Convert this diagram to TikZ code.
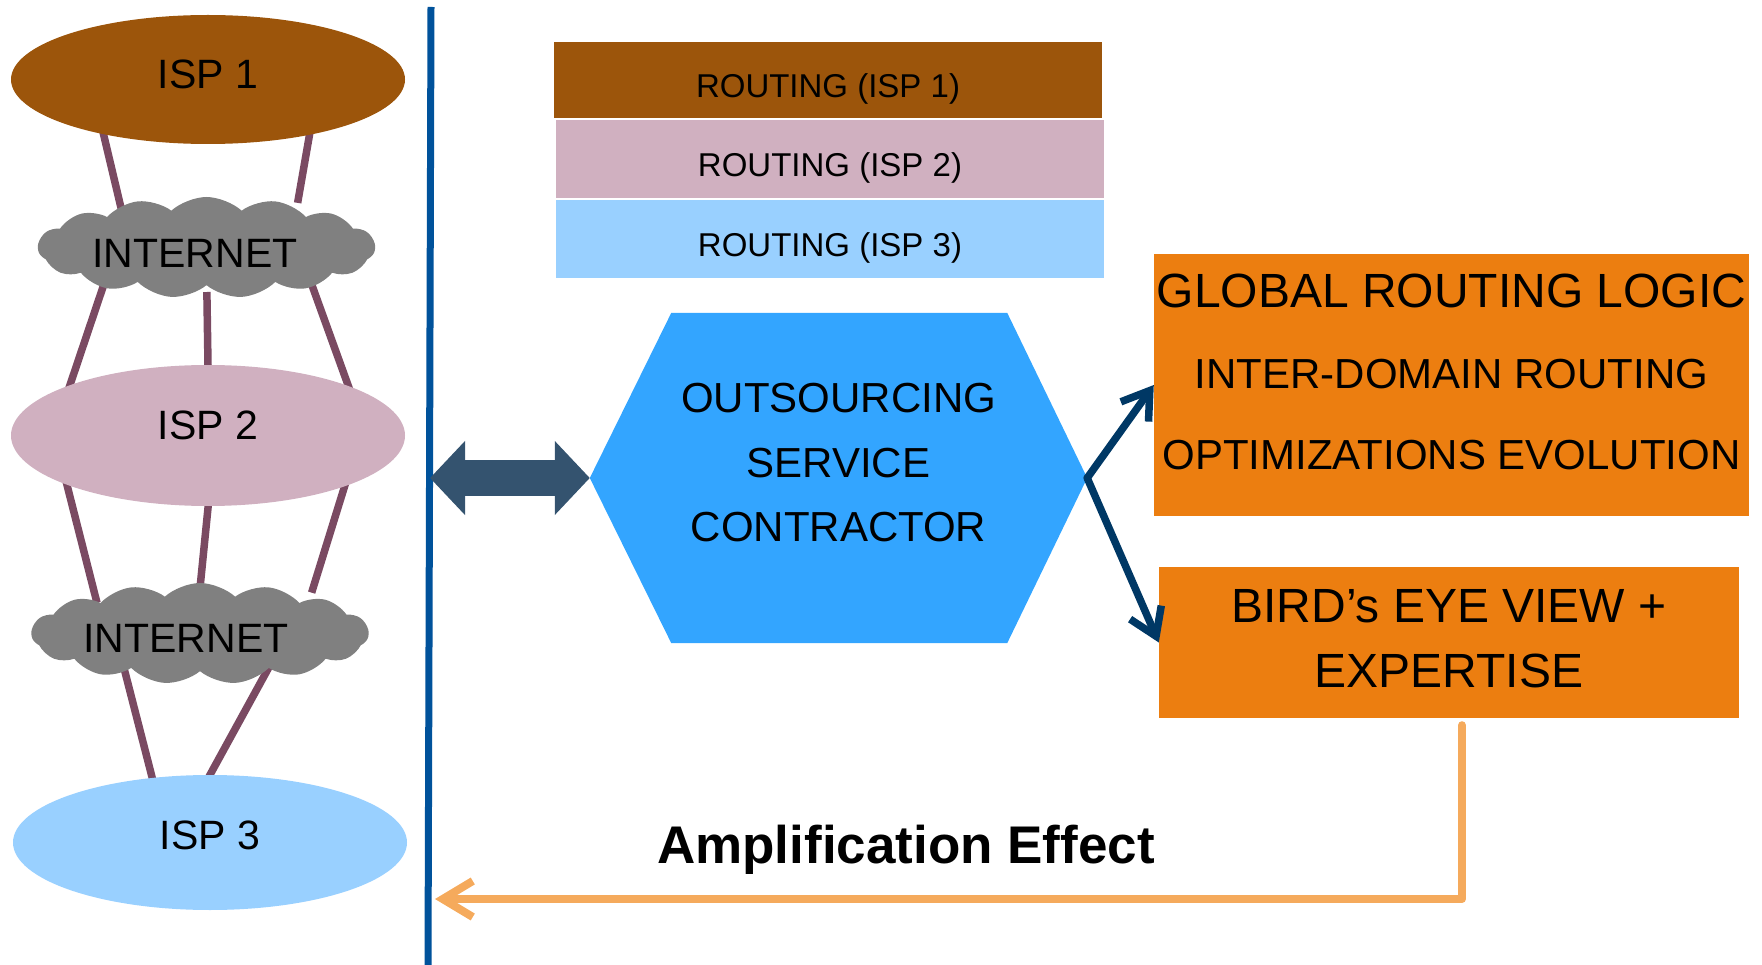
\documentclass[tikz,border=0pt]{standalone}
\usepackage{fontspec}
\setmainfont{Liberation Sans}
\usetikzlibrary{shapes.geometric,shapes.symbols,arrows.meta,calc,backgrounds}

\definecolor{ispbrown}{RGB}{156,85,11}
\definecolor{isppink}{RGB}{208,176,192}
\definecolor{ispblue}{RGB}{153,208,255}
\definecolor{cloudgray}{RGB}{128,128,128}
\definecolor{linkpurple}{RGB}{122,74,98}
\definecolor{hexblue}{RGB}{51,165,255}
\definecolor{slateblue}{RGB}{52,83,111}
\definecolor{navy}{RGB}{0,56,101}
\definecolor{boxorange}{RGB}{236,126,16}
\definecolor{amporange}{RGB}{245,170,92}
\definecolor{divblue}{RGB}{0,82,155}

\begin{document}
\begin{tikzpicture}[x=1pt,y=-1pt,
  isp/.style={ellipse, inner sep=0pt, minimum width=394pt, font=\fontsize{41}{49}\selectfont},
  net/.style={cloud, cloud puffs=15, cloud puff arc=85, aspect=3.3, fill=cloudgray,
              inner sep=0pt, minimum width=337pt, minimum height=101pt},
  nettext/.style={font=\fontsize{41}{50}\selectfont, inner sep=0pt},
  route/.style={rectangle, inner sep=0pt, minimum width=548pt, minimum height=78pt,
                text height=35.6pt, text depth=0pt, font=\fontsize{33}{40}\selectfont},
  orangebox/.style={rectangle, fill=boxorange, inner sep=0pt, align=center},
  link/.style={draw=linkpurple, line width=7.5pt, shorten <=-8pt, shorten >=-8pt},
  pointer/.style={draw=navy, line width=7.5pt, line cap=round, line join=round,
                  -{Straight Barb[length=26pt,width=34pt]}},
]
\useasboundingbox (0,0) rectangle (1762,965);

% ISPs and the Internet clouds between them
\node[isp, fill=ispbrown, minimum height=129pt, text depth=10pt] (isp1) at (208,79.5) {ISP 1};
\node[isp, fill=isppink,  minimum height=141pt, text depth=20pt] (isp2) at (208,435.5) {ISP 2};
\node[isp, fill=ispblue,  minimum height=135pt, text depth=14pt] (isp3) at (210,842.5) {ISP 3};
\node[net, label={[nettext, xshift=-11.5pt, yshift=-5.5pt]center:INTERNET}] (net1) at (206.5,247.5) {};
\node[net, label={[nettext, xshift=-14pt, yshift=-4.5pt]center:INTERNET}] (net2) at (200,633.5) {};

% per-ISP routing bars
\node[route, fill=ispbrown, minimum height=76pt] (r1) at (828,80) {ROUTING (ISP 1)};
\node[route, fill=isppink] (r2) at (830,159) {ROUTING (ISP 2)};
\node[route, fill=ispblue] (r3) at (830,239) {ROUTING (ISP 3)};

% contractor hexagon
\node[inner sep=0pt, minimum width=497pt, minimum height=330pt, align=center,
      text depth=31pt, font=\fontsize{42}{64.5}\selectfont] (hex) at (838.5,478)
      {OUTSOURCING\\SERVICE\\CONTRACTOR};

% result boxes
\node[orangebox, minimum width=595pt, minimum height=262pt, text depth=26pt,
      font=\fontsize{42}{81}\selectfont] (box1) at (1451.5,385)
      {{\fontsize{48}{81}\selectfont GLOBAL ROUTING LOGIC}\\INTER-DOMAIN ROUTING\\OPTIMIZATIONS EVOLUTION};
\node[orangebox, minimum width=580pt, minimum height=151pt, text depth=9pt,
      font=\fontsize{48}{65}\selectfont] (box2) at (1449,642.5)
      {BIRD’s EYE VIEW +\\EXPERTISE};

\begin{scope}[on background layer]
  \fill[hexblue] (hex.west) -- ($(hex.north west)+(81.5,0)$) -- ($(hex.north east)+(-80,0)$)
    -- (hex.east) -- ($(hex.south east)+(-80,0)$) -- ($(hex.south west)+(81.5,0)$) -- cycle;
  % links
  \draw[link] ($(isp1)+(-105,52.5)$) -- ($(net1)+(-84.5,-35.5)$);
  \draw[link] ($(isp1)+(102,52.5)$)  -- ($(net1)+(92.5,-52.5)$);
  \draw[link] ($(net1)+(-102.5,36.5)$) -- ($(isp2)+(-138,-50.5)$);
  \draw[link] ($(net1)+(0.5,52.5)$)    -- ($(isp2)+(0,-70.5)$);
  \draw[link] ($(net1)+(102.5,29.5)$)  -- ($(isp2)+(140,-50.5)$);
  \draw[link] ($(isp2)+(-141,49.5)$) -- ($(net2)+(-105,-38.5)$);
  \draw[link] ($(isp2)+(0,72.5)$)    -- ($(net2)+(0,-45.5)$);
  \draw[link] ($(isp2)+(137,49.5)$)  -- ($(net2)+(114,-48.5)$);
  \draw[link] ($(net2)+(-75,38.5)$) -- ($(isp3)+(-58,-65.5)$);
  \draw[link] ($(net2)+(68,35.5)$)  -- ($(isp3)+(1,-69.5)$);
\end{scope}

% divider
\coordinate (divtop) at (431,7);
\coordinate (divbot) at (428,965);
\draw[divblue, line width=7pt] (divtop) -- (divbot);

% two-way exchange with the contractor
\coordinate (dleft) at (430,478);
\draw[slateblue, line width=36pt,
      {Triangle[length=35pt,width=72pt]}-{Triangle[length=35pt,width=72pt]}] (dleft) -- (hex.west);

\draw[pointer] (hex.east) -- (box1.west);
\draw[pointer] (hex.east) -- (box2.west);

% feedback arrow
\coordinate (ampend) at (435,899);
\draw[amporange, line width=8pt, line cap=round, line join=round,
      -{Straight Barb[length=30pt,width=36pt]}] ($(box2.south)+(13,7)$) |- (ampend);
\node[font=\bfseries\fontsize{53}{60}\selectfont, inner sep=0pt, text height=38pt, text depth=0pt]
      (amp) at (906,844) {Amplification Effect};
\end{tikzpicture}
\end{document}
